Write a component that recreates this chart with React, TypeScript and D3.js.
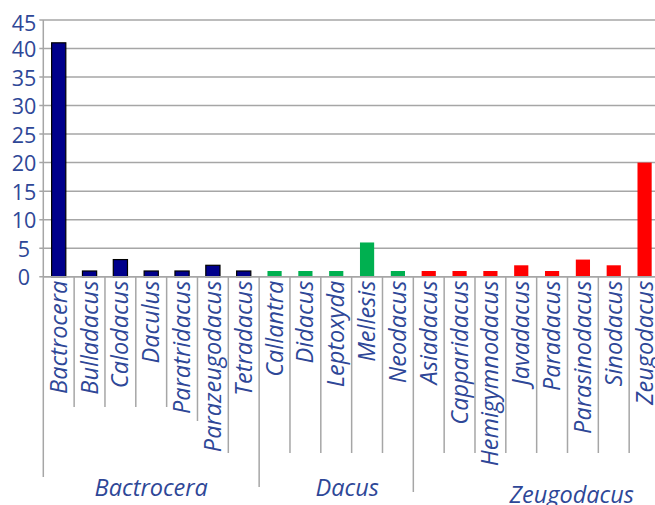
import React from "react";
import * as d3 from "d3";

const groups = ["Bactrocera", "Dacus", "Zeugodacus"];
const groupColors = ["#00008B", "#00B050", "#FF0000"];
const categories = [
  "Bactrocera", "Bulladacus", "Calodacus", "Daculus", "Paratridacus", "Parazeugodacus", "Tetradacus",
  "Callantra", "Didacus", "Leptoxyda", "Mellesis", "Neodacus",
  "Asiadacus", "Capparidacus", "Hemigymnodacus", "Javadacus", "Paradacus", "Parasinodacus", "Sinodacus", "Zeugodacus",
];
const categoryGroup = [0, 0, 0, 0, 0, 0, 0, 1, 1, 1, 1, 1, 2, 2, 2, 2, 2, 2, 2, 2];
const values = [41, 1, 3, 1, 1, 2, 1, 1, 1, 1, 6, 1, 1, 1, 1, 2, 1, 3, 2, 20];
const yTicks = [0, 5, 10, 15, 20, 25, 30, 35, 40, 45];

const W = 655, H = 505;
const left = 43.3, right = 660, top = 20, bottom = 276.7;
const textColor = "#2E4797";
const gridColor = "#A6A6A6";
const font = "'Open Sans', sans-serif";

export default function App() {
  const x = d3.scaleBand<string>().domain(categories).range([left, right]).padding(0);
  const y = d3.scaleLinear().domain([0, 45]).range([bottom, top]);
  const bw = x.bandwidth() * 0.46;

  const groupExt = groups.map((g, gi) => {
    const idx = categories.map((c, i) => i).filter((i) => categoryGroup[i] === gi);
    const x0 = x(categories[idx[0]])!;
    const x1 = x(categories[idx[idx.length - 1]])! + x.bandwidth();
    return { g, gi, x0, x1 };
  });
  const groupLabelShift = [0, 11, 35];
  const groupLabelBase = [496, 496, 503];
  const groupLineEnd = [477, 487, 492];

  const tickEnd = (i: number) => {
    if (i >= 1 && i <= 4) return 407;
    if (i === 5) return 421;
    return 453;
  };

  return (
    <svg width={W} height={H} style={{ position: "absolute", left: 0, top: 0, background: "#fff" }}>
      {yTicks.map((t) => (
        <g key={t}>
          <line x1={left - 4} x2={W} y1={y(t)} y2={y(t)} stroke={gridColor} strokeWidth={1.5} />
          <text
            x={24}
            y={y(t) + (t === 45 ? 2 : 0)}
            textAnchor="middle"
            dominantBaseline="central"
            fontFamily={font}
            fontSize={21.5}
            fill={textColor}
          >
            {t}
          </text>
        </g>
      ))}
      <line x1={left} x2={left} y1={top} y2={bottom} stroke={gridColor} strokeWidth={1.5} />

      {categories.map((c, i) => {
        const cx = x(c)! + x.bandwidth() / 2;
        const gi = categoryGroup[i];
        return (
          <rect
            key={c}
            x={cx - bw / 2}
            y={y(values[i])}
            width={bw}
            height={bottom - y(values[i])}
            fill={groupColors[gi]}
            stroke={gi === 0 ? "#000" : "none"}
            strokeWidth={1.2}
          />
        );
      })}

      {categories.map((c, i) => {
        if (i === 0 || categoryGroup[i] !== categoryGroup[i - 1]) return null;
        const xx = x(c)!;
        return <line key={"t" + c} x1={xx} x2={xx} y1={bottom} y2={tickEnd(i)} stroke={gridColor} strokeWidth={1.5} />;
      })}
      {groupExt.map((ge) => (
        <line key={"g" + ge.g} x1={ge.x0} x2={ge.x0} y1={bottom} y2={groupLineEnd[ge.gi]} stroke={gridColor} strokeWidth={1.5} />
      ))}

      {categories.map((c, i) => {
        const cx = x(c)! + x.bandwidth() / 2 + 8;
        return (
          <text
            key={"l" + c}
            transform={`translate(${cx},${bottom + 4}) rotate(-90)`}
            textAnchor="end"
            fontFamily={font}
            fontStyle="italic"
            fontSize={23.5}
            fill={textColor}
          >
            {c}
          </text>
        );
      })}

      {groupExt.map((ge) => (
        <text
          key={"gl" + ge.g}
          x={(ge.x0 + ge.x1) / 2 + groupLabelShift[ge.gi]}
          y={groupLabelBase[ge.gi]}
          textAnchor="middle"
          fontFamily={font}
          fontStyle="italic"
          fontSize={23.5}
          fill={textColor}
        >
          {ge.g}
        </text>
      ))}

      <line x1={left} x2={W} y1={bottom} y2={bottom} stroke={gridColor} strokeWidth={1.5} />
    </svg>
  );
}
